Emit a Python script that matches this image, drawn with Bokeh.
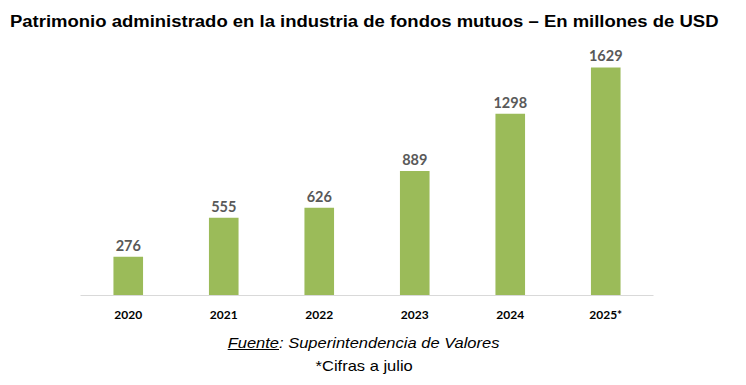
from bokeh.plotting import figure
from bokeh.models import ColumnDataSource, Range1d, FactorRange, Div
from bokeh.layouts import column
from bokeh.core.properties import value
from bokeh.embed import file_html
from bokeh.resources import INLINE

years = ["2020", "2021", "2022", "2023", "2024", "2025*"]
patrimonio = [276, 555, 626, 889, 1298, 1629]
labels = [str(v) for v in patrimonio]

title_text = "Patrimonio administrado en la industria de fondos mutuos \u2013 En millones de USD"
source_label = "Fuente"
source_text = ": Superintendencia de Valores"
note_text = "*Cifras a julio"

src = ColumnDataSource(dict(year=years, val=patrimonio, lab=labels))

p = figure(x_range=FactorRange(*years), y_range=Range1d(0, 1821),
           width=738, height=287, output_backend="svg", toolbar_location=None,
           min_border_left=80, min_border_right=85, min_border_top=2, min_border_bottom=30)
p.vbar(x="year", top="val", width=0.31, source=src, color="#9BBB59", line_color=None)
p.text(x="year", y="val", text="lab", source=src, text_align="center", text_baseline="bottom",
       y_offset=-6, text_font=value("Lato"), text_font_style="bold", text_font_size="14.5px",
       text_color="#595959")

p.yaxis.visible = False
p.xgrid.grid_line_color = None
p.ygrid.grid_line_color = None
p.outline_line_color = None
p.xaxis.axis_line_color = "#d9d9d9"
p.xaxis.major_tick_line_color = None
p.xaxis.minor_tick_line_color = None
p.xaxis.major_tick_out = 0
p.xaxis.major_tick_in = 0
p.xaxis.major_label_standoff = 11
p.xaxis.major_label_text_font = "Lato"
p.xaxis.major_label_text_font_style = "bold"
p.xaxis.major_label_text_font_size = "12px"
p.xaxis.major_label_text_color = "#000000"
p.x_range.range_padding = 0

title_div = Div(text=f'<div style="padding-top:8px;padding-left:10px;white-space:nowrap;">'
                     f'<span style="display:inline-block;font-family:\'Liberation Sans\';font-weight:bold;'
                     f'font-size:16px;line-height:28px;color:#000;transform:scaleX(1.155);'
                     f'transform-origin:left center;">{title_text}</span></div>',
                width=738, height=38, margin=(0, 0, 0, 0))

footer_div = Div(text=f'<div style="font-family:\'Liberation Sans\';font-size:15px;line-height:23px;'
                      f'padding-top:6px;text-align:center;width:728px;color:#000">'
                      f'<span style="display:inline-block;transform:scaleX(1.1);"><i><u>{source_label}</u>{source_text}</i></span><br>'
                      f'<span style="display:inline-block;transform:scaleX(1.1);">{note_text}</span></div>',
                 width=738, height=52, margin=(0, 0, 0, 0))

layout = column(title_div, p, footer_div, spacing=0)
open("out.html", "w").write(file_html(layout, INLINE))
